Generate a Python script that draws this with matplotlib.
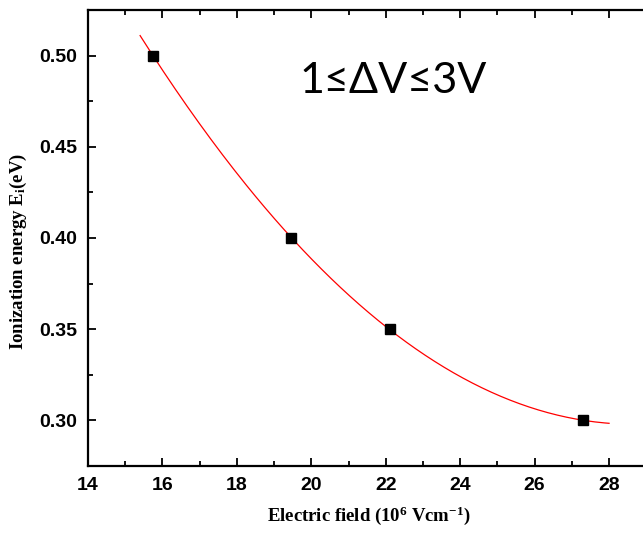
import numpy as np
import matplotlib
matplotlib.use("Agg")
import matplotlib.pyplot as plt
from matplotlib.ticker import MultipleLocator, FormatStrFormatter

plt.rcParams['mathtext.fontset'] = 'custom'
plt.rcParams['mathtext.bf'] = 'Liberation Serif:bold'
plt.rcParams['mathtext.rm'] = 'Liberation Serif:bold'
plt.rcParams['mathtext.it'] = 'Liberation Serif:bold'

field = [15.75, 19.45, 22.12, 27.3]
energy = [0.50, 0.40, 0.35, 0.30]
fit_start, fit_end = 15.4, 28.0

fig = plt.figure(figsize=(6.43, 5.35), dpi=100)
ax = fig.add_axes([88/643, (535-466)/535, (650-88)/643, (466-10)/535])

coef = np.polyfit(field, energy, 2)
xf = np.linspace(fit_start, fit_end, 200)
ax.plot(xf, np.polyval(coef, xf), color='red', lw=0.9)
ax.plot(field, energy, 's', color='black', ms=6.5)

ax.set_xlim(14, 29.1)
ax.set_ylim(0.275, 0.525)
ax.xaxis.set_major_locator(MultipleLocator(2))
ax.xaxis.set_minor_locator(MultipleLocator(1))
ax.yaxis.set_major_locator(MultipleLocator(0.05))
ax.yaxis.set_minor_locator(MultipleLocator(0.025))
ax.yaxis.set_major_formatter(FormatStrFormatter('%.2f'))
ax.tick_params(which='both', direction='in', top=True, right=False, width=1.3)
ax.tick_params(which='major', length=6)
ax.tick_params(which='minor', length=3.5)
for lab in ax.get_xticklabels() + ax.get_yticklabels():
    lab.set_fontfamily('Liberation Sans')
    lab.set_fontweight('bold')
    lab.set_fontsize(14)
ax.tick_params(axis='x', pad=8)
ax.tick_params(axis='y', pad=8)
for s in ax.spines.values():
    s.set_linewidth(1.6)

fig.text(369/643, 1 - 516/535, r'Electric field (10$^{6}$ Vcm$^{-1}$)',
         fontfamily='Liberation Serif', fontweight='bold', fontsize=13.5,
         ha='center', va='center')
fig.text(18/643, 1 - 251/535, r'Ionization energy E$_{i}$(eV)',
         fontfamily='Liberation Serif', fontweight='bold', fontsize=13.5,
         ha='center', va='center', rotation=90)

fig.text(393/643, 1 - 81/535, '1≤ΔV≤3V', fontfamily=['Lato', 'DejaVu Sans'], fontsize=31,
         ha='center', va='center')

fig.savefig('out.png', dpi=100)
